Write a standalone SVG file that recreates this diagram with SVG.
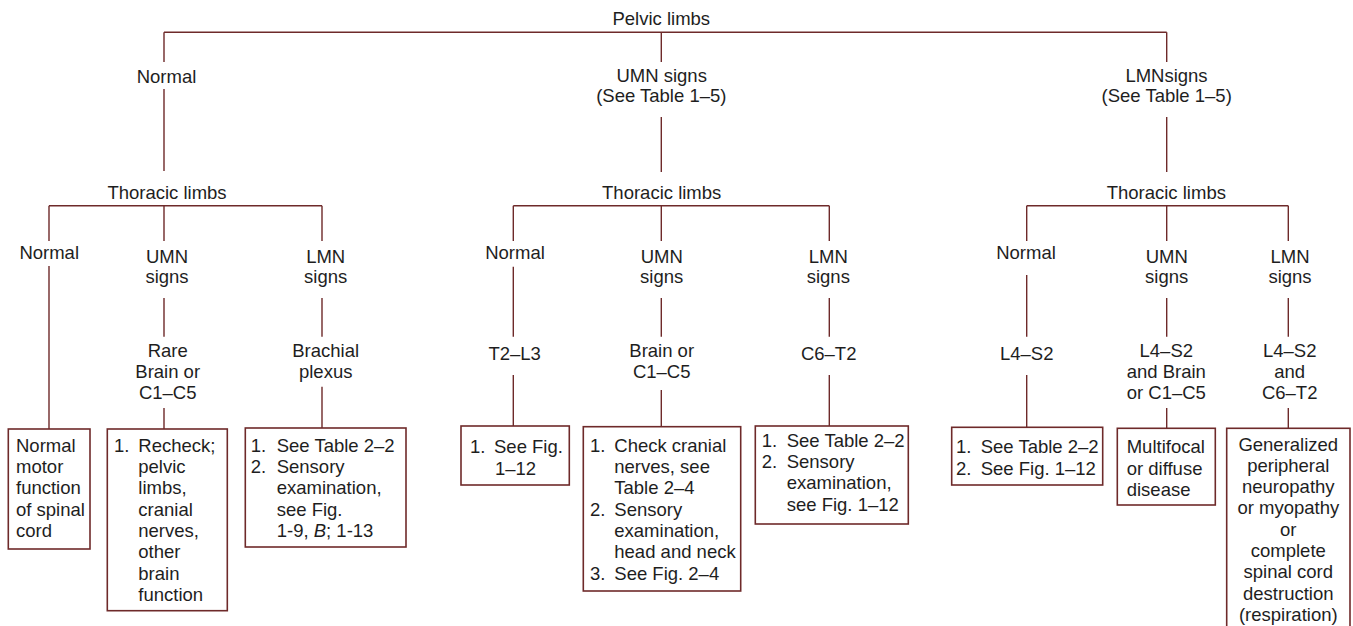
<svg xmlns="http://www.w3.org/2000/svg" width="1353" height="626" viewBox="0 0 1353 626">
<style>
text{font-family:"Liberation Sans",Arial,Helvetica,sans-serif;font-size:18.5px;fill:#1e1e1e}
.c{text-anchor:middle}
.ln{stroke:#6e2a2a;stroke-width:1.4;fill:none}
.bx{stroke:#6e2a2a;stroke-width:1.6;fill:#fff}
</style>
<rect width="1353" height="626" fill="#fff"/>
<g id="connectors" class="ln">
<path d="M164,32.3H1166.7M164,32.3V62M661.3,32.3V62M1166.7,32.3V62"/>
<path d="M164,89V171M661.3,117V172M1166.7,117V172"/>
<path d="M49,205.7H322M513.3,205.7H829.3M1026.7,205.7H1288.3"/>
<path d="M49,205.7V241M164,205.7V241M322,205.7V241M513.3,205.7V241M661.3,205.7V241M829.3,205.7V241M1026.7,205.7V241M1166.7,205.7V241M1288.3,205.7V241"/>
<path d="M49,266V429M164,298V336.7M322,298V336.7M513.3,266.7V336.7M661.3,298V336.7M829.3,298V336.7M1026.7,275V336.7M1166.7,298V336.7M1288.3,298V336.7"/>
<path d="M164,408V429M322,386.7V428M513.3,375V426M661.3,390V426.7M829.3,375V426M1026.7,375V427.3M1166.7,408V428.3M1288.3,408V428.3"/>
</g>
<g id="n-pelvic"><text class="c" x="661.3" y="25">Pelvic limbs</text></g>
<g id="n-p-normal"><text class="c" x="166.5" y="82.7">Normal</text></g>
<g id="n-p-umn"><text class="c" x="661.7" y="82">UMN signs</text><text class="c" x="661.3" y="102">(See Table 1–5)</text></g>
<g id="n-p-lmn"><text class="c" x="1166.5" y="82">LMNsigns</text><text class="c" x="1166.7" y="102">(See Table 1–5)</text></g>
<g id="n-t1"><text class="c" x="167" y="199">Thoracic limbs</text></g>
<g id="n-t2"><text class="c" x="661.7" y="199">Thoracic limbs</text></g>
<g id="n-t3"><text class="c" x="1166.3" y="199">Thoracic limbs</text></g>
<g id="n-1-normal"><text class="c" x="49.2" y="259.3">Normal</text></g>
<g id="n-1-umn"><text class="c" x="167" y="263.3">UMN</text><text class="c" x="167" y="283.3">signs</text></g>
<g id="n-1-lmn"><text class="c" x="325.7" y="263.3">LMN</text><text class="c" x="325.7" y="283.3">signs</text></g>
<g id="n-2-normal"><text class="c" x="515" y="259.3">Normal</text></g>
<g id="n-2-umn"><text class="c" x="661.7" y="263.3">UMN</text><text class="c" x="661.7" y="283.3">signs</text></g>
<g id="n-2-lmn"><text class="c" x="828.3" y="263.3">LMN</text><text class="c" x="828.3" y="283.3">signs</text></g>
<g id="n-3-normal"><text class="c" x="1026" y="259.3">Normal</text></g>
<g id="n-3-umn"><text class="c" x="1166.7" y="263.3">UMN</text><text class="c" x="1166.7" y="283.3">signs</text></g>
<g id="n-3-lmn"><text class="c" x="1290" y="263.3">LMN</text><text class="c" x="1290" y="283.3">signs</text></g>
<g id="n-1-umn-loc"><text class="c" x="167.7" y="356.7">Rare</text><text class="c" x="167.7" y="377.7">Brain or</text><text class="c" x="167.7" y="399">C1–C5</text></g>
<g id="n-1-lmn-loc"><text class="c" x="325.7" y="356.7">Brachial</text><text class="c" x="325.7" y="377.7">plexus</text></g>
<g id="n-2-normal-loc"><text class="c" x="514.7" y="360">T2–L3</text></g>
<g id="n-2-umn-loc"><text class="c" x="661.7" y="356.7">Brain or</text><text class="c" x="661.7" y="377.7">C1–C5</text></g>
<g id="n-2-lmn-loc"><text class="c" x="828.7" y="360">C6–T2</text></g>
<g id="n-3-normal-loc"><text class="c" x="1026.7" y="360">L4–S2</text></g>
<g id="n-3-umn-loc"><text class="c" x="1166.3" y="356.7">L4–S2</text><text class="c" x="1166.3" y="377.7">and Brain</text><text class="c" x="1166.3" y="399">or C1–C5</text></g>
<g id="n-3-lmn-loc"><text class="c" x="1289.7" y="356.7">L4–S2</text><text class="c" x="1289.7" y="377.7">and</text><text class="c" x="1289.7" y="399">C6–T2</text></g>
<g id="box-a"><rect class="bx" x="8.3" y="429" width="81.7" height="120"/>
<text x="16" y="451.7">Normal</text><text x="16" y="473">motor</text><text x="16" y="494.3">function</text><text x="16" y="515.7">of spinal</text><text x="16" y="537">cord</text></g>
<g id="box-b"><rect class="bx" x="107.3" y="429" width="120" height="181.7"/>
<text x="114" y="451.7">1.</text><text x="138.3" y="451.7">Recheck;</text><text x="138.3" y="473">pelvic</text><text x="138.3" y="494.3">limbs,</text><text x="138.3" y="515.7">cranial</text><text x="138.3" y="537">nerves,</text><text x="138.3" y="558.3">other</text><text x="138.3" y="579.7">brain</text><text x="138.3" y="601">function</text></g>
<g id="box-c"><rect class="bx" x="245.3" y="428" width="160.7" height="119"/>
<text x="250.7" y="451.7">1.</text><text x="276.7" y="451.7">See Table 2–2</text><text x="250.7" y="473">2.</text><text x="276.7" y="473">Sensory</text><text x="276.7" y="494.3">examination,</text><text x="276.7" y="515.7">see Fig.</text><text x="276.7" y="537">1-9, <tspan font-style="italic">B</tspan>; 1-13</text></g>
<g id="box-d"><rect class="bx" x="461" y="426" width="108.3" height="59"/>
<text x="470" y="453.3">1.</text><text x="494" y="453.3">See Fig.</text><text x="495" y="474.6">1–12</text></g>
<g id="box-e"><rect class="bx" x="583.3" y="426.7" width="157.4" height="164.3"/>
<text x="590" y="451.7">1.</text><text x="614.3" y="451.7">Check cranial</text><text x="614.3" y="473">nerves, see</text><text x="614.3" y="494.3">Table 2–4</text><text x="590" y="515.7">2.</text><text x="614.3" y="515.7">Sensory</text><text x="614.3" y="537">examination,</text><text x="614.3" y="558.3">head and neck</text><text x="590" y="579.7">3.</text><text x="614.3" y="579.7">See Fig. 2–4</text></g>
<g id="box-f"><rect class="bx" x="755.3" y="426" width="153" height="98"/>
<text x="761.7" y="446.7">1.</text><text x="786.7" y="446.7">See Table 2–2</text><text x="761.7" y="468">2.</text><text x="786.7" y="468">Sensory</text><text x="786.7" y="489.3">examination,</text><text x="786.7" y="510.7">see Fig. 1–12</text></g>
<g id="box-g"><rect class="bx" x="951.7" y="427.3" width="151" height="57.7"/>
<text x="956" y="453.3">1.</text><text x="980.7" y="453.3">See Table 2–2</text><text x="956" y="474.7">2.</text><text x="980.7" y="474.7">See Fig. 1–12</text></g>
<g id="box-h"><rect class="bx" x="1117.3" y="428.3" width="98" height="76.7"/>
<text x="1126.7" y="453.3">Multifocal</text><text x="1126.7" y="474.7">or diffuse</text><text x="1126.7" y="496">disease</text></g>
<g id="box-i"><rect class="bx" x="1226.7" y="428.3" width="123.3" height="210"/>
<text class="c" x="1288.3" y="450.5">Generalized</text><text class="c" x="1288.3" y="471.8">peripheral</text><text class="c" x="1288.3" y="493.1">neuropathy</text><text class="c" x="1288.3" y="514.4">or myopathy</text><text class="c" x="1288.3" y="535.7">or</text><text class="c" x="1288.3" y="557">complete</text><text class="c" x="1288.3" y="578.3">spinal cord</text><text class="c" x="1288.3" y="599.6">destruction</text><text class="c" x="1288.3" y="620.9">(respiration)</text></g>
</svg>
